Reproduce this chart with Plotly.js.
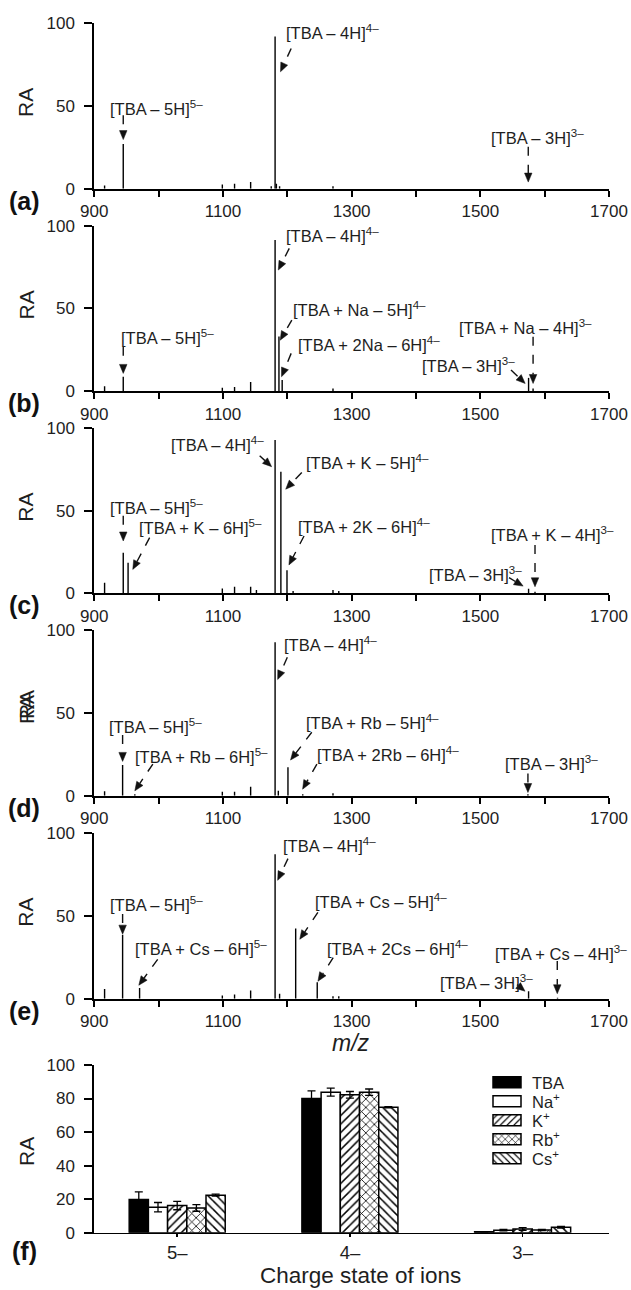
<!DOCTYPE html>
<html>
<head>
<meta charset="utf-8">
<script src="https://cdn.plot.ly/plotly-3.0.1.min.js"></script>
<style>html,body{margin:0;padding:0;background:#fff;}#chart{width:631px;height:1290px;}</style>
</head>
<body>
<div id="chart"></div>
<script>
// ---------- DATA ----------
// Mass spectra (m/z of sticks and relative abundance RA)
const mzA = [916, 945, 1099, 1118, 1143, 1175, 1181, 1183, 1188, 1271];
const raA = [2, 27, 2.5, 3, 4, 1.5, 92, 3, 1.5, 1.5];

const mzB = [916, 945, 1099, 1118, 1143, 1181, 1187, 1192, 1271, 1575, 1582];
const raB = [3, 8.7, 2, 2.5, 5.5, 91.3, 33, 6.7, 1.5, 8, 1.5];

const mzC = [916, 945, 952.5, 1099, 1118, 1143, 1152, 1181, 1190, 1199.5, 1209, 1271, 1280, 1575, 1585];
const raC = [6.5, 24.6, 18.6, 3, 4, 4, 2, 92.7, 73.5, 14, 1.5, 2, 1.5, 2.8, 1];

const mzD = [916, 944, 963, 1099, 1118, 1143, 1181, 1186, 1201, 1224, 1271, 1574];
const raD = [2.8, 18.6, 1, 2.5, 2.5, 5.5, 92.9, 3, 17.2, 1, 1.5, 1];

const mzE = [916, 944, 970.4, 1099, 1118, 1143, 1181, 1188, 1213, 1246.5, 1271, 1280, 1575, 1620];
const raE = [5.9, 38.5, 6.5, 2, 2.5, 4.9, 87, 3, 42.3, 9.9, 1.5, 1.5, 4.5, 0.5];

const mzTickVals = [900, 1100, 1300, 1500, 1700];
const mzMinorTickVals = [1000, 1200, 1400, 1600];
const raTickVals = [0, 50, 100];

// Bar chart (f)
const chargeStates = ['5–', '4–', '3–'];
const seriesNames = ['TBA', 'Na<sup>+</sup>', 'K<sup>+</sup>', 'Rb<sup>+</sup>', 'Cs<sup>+</sup>'];
const raTBA = [19.8, 80.0, 0.5];
const errTBA = [4.6, 4.6, 0.2];
const raNa = [15.2, 83.8, 1.5];
const errNa = [2.8, 2.4, 0.4];
const raK = [16.2, 82.2, 2.2];
const errK = [2.5, 2.0, 0.8];
const raRb = [14.8, 83.8, 1.6];
const errRb = [2.0, 1.9, 0.4];
const raCs = [22.4, 74.8, 3.2];
const errCs = [0.6, 0.3, 0.5];
const fTickVals = [0, 20, 40, 60, 80, 100];

// Peak labels (text, label left x, label y, arrow tail x,y, arrow tip x,y) in data units
const labelsA = [
  ['[TBA – 5H]<sup>5–</sup>', 921, 49, 945, 44.4, 945, 29.7],
  ['[TBA – 4H]<sup>4–</sup>', 1195.6, 95, 1206, 84.8, 1189.4, 70.7],
  ['[TBA – 3H]<sup>3–</sup>', 1513, 31.3, 1574.5, 25.3, 1574.5, 4]
];
const labelsB = [
  ['[TBA – 5H]<sup>5–</sup>', 939, 32.5, 945, 26.8, 945, 10.7],
  ['[TBA – 4H]<sup>4–</sup>', 1194.4, 94.4, 1203, 86.3, 1186, 73.2],
  ['[TBA + Na – 5H]<sup>4–</sup>', 1205, 49.6, 1207, 42.9, 1188.9, 30.8],
  ['[TBA + 2Na – 6H]<sup>4–</sup>', 1213, 28.4, 1206, 22.8, 1191, 8.7],
  ['[TBA – 3H]<sup>3–</sup>', 1407, 15.7, 1547.7, 12.7, 1569.7, 4.6],
  ['[TBA + Na – 4H]<sup>3–</sup>', 1463, 38.9, 1582, 32.9, 1582, 4.6]
];
const labelsC = [
  ['[TBA – 4H]<sup>4–</sup>', 1016, 90.3, 1157, 83.2, 1175.6, 76.6],
  ['[TBA + K – 5H]<sup>4–</sup>', 1225.6, 79.2, 1222.5, 73.1, 1197.5, 63],
  ['[TBA – 5H]<sup>5–</sup>', 921, 52.3, 945, 46.9, 945, 31.7],
  ['[TBA + K – 6H]<sup>5–</sup>', 966, 40.2, 986, 33.7, 959.8, 14.5],
  ['[TBA + 2K – 6H]<sup>4–</sup>', 1213, 40.8, 1226, 34.7, 1202.5, 17.2],
  ['[TBA – 3H]<sup>3–</sup>', 1416.5, 11.5, 1544.6, 9.5, 1566.5, 4.4],
  ['[TBA + K – 4H]<sup>3–</sup>', 1513.4, 35.8, 1585, 29.3, 1585, 4]
];
const labelsD = [
  ['[TBA – 4H]<sup>4–</sup>', 1191, 91.9, 1200, 83.8, 1185, 70.3],
  ['[TBA – 5H]<sup>5–</sup>', 919, 42.4, 944, 36.8, 944, 20.8],
  ['[TBA + Rb – 6H]<sup>5–</sup>', 960, 24.2, 991, 19.2, 963, 3],
  ['[TBA + Rb – 5H]<sup>4–</sup>', 1225.6, 44.4, 1238, 38.4, 1205, 21.6],
  ['[TBA + 2Rb – 6H]<sup>4–</sup>', 1243, 25.3, 1246, 19.2, 1223.8, 4],
  ['[TBA – 3H]<sup>3–</sup>', 1535, 19.8, 1574, 13.5, 1574, 2]
];
const labelsE = [
  ['[TBA – 4H]<sup>4–</sup>', 1190, 92.5, 1201, 84.4, 1185, 71.3],
  ['[TBA – 5H]<sup>5–</sup>', 921, 57.1, 944, 51, 944, 38.9],
  ['[TBA + Cs – 5H]<sup>4–</sup>', 1240, 59.1, 1247.5, 52, 1219.4, 35.8],
  ['[TBA + Cs – 6H]<sup>5–</sup>', 960, 30.8, 998.5, 23.7, 969.2, 8.1],
  ['[TBA + 2Cs – 6H]<sup>4–</sup>', 1259, 30.8, 1271.3, 24.7, 1247.6, 10.5],
  ['[TBA – 3H]<sup>3–</sup>', 1434, 10.1, 1557, 8.5, 1569.5, 4.5],
  ['[TBA + Cs – 4H]<sup>3–</sup>', 1519.7, 27.7, 1619.6, 22.7, 1619.6, 3]
];

// ---------- LAYOUT ----------
const W = 631, H = 1290;
const FONT = 'Liberation Sans, Arial, Helvetica, sans-serif';
const TXT = '#1e1e1e';
const py = p => 1 - p / H;
const xDom = [94.3 / W, 609 / W];
const panelPx = [[23.3, 188.7], [225.7, 391.1], [428, 593.4], [630.4, 795.8], [832.7, 998.7]];
const fPx = [1065, 1232.7];

const spectra = [[mzA, raA], [mzB, raB], [mzC, raC], [mzD, raD], [mzE, raE]];
const labelSets = [labelsA, labelsB, labelsC, labelsD, labelsE];

const traces = [];
const layout = {
  width: W, height: H,
  margin: {l: 0, r: 0, t: 0, b: 0},
  paper_bgcolor: '#fff', plot_bgcolor: 'rgba(0,0,0,0)',
  font: {family: FONT, color: TXT, size: 17},
  showlegend: true,
  barmode: 'group', bargap: 0.444, bargroupgap: 0,
  legend: {x: 492 / W, y: py(1065), xanchor: 'left', yanchor: 'top',
           font: {size: 16.5, family: FONT, color: TXT}, bgcolor: 'rgba(0,0,0,0)',
           tracegroupgap: 0, itemwidth: 30},
  annotations: [], shapes: []
};

const HEAD_L = 9, HEAD_W = 7.5;

spectra.forEach((s, i) => {
  const n = i + 1;
  const sx = n === 1 ? '' : String(n);
  const xs = [], ys = [];
  s[0].forEach((m, k) => { xs.push(m, m, null); ys.push(0, s[1][k], null); });
  traces.push({x: xs, y: ys, type: 'scatter', mode: 'lines',
    line: {color: '#000', width: 1.4}, xaxis: 'x' + sx, yaxis: 'y' + sx,
    showlegend: false, hoverinfo: 'skip', cliponaxis: false});
  const dom = [py(panelPx[i][1]), py(panelPx[i][0])];
  layout['xaxis' + sx] = {domain: xDom, anchor: 'y' + sx, range: [900, 1700], fixedrange: true,
    showline: true, linecolor: '#000', linewidth: 2, showgrid: false, zeroline: false,
    ticks: 'outside', ticklen: 6, tickwidth: 2, tickcolor: '#000',
    tickmode: 'array', tickvals: mzTickVals,
    minor: {tickmode: 'array', tickvals: mzMinorTickVals, ticks: 'outside', ticklen: 6, tickwidth: 2, tickcolor: '#000', showgrid: false},
    tickfont: {size: 17, color: TXT}};
  layout['yaxis' + sx] = {domain: dom, anchor: 'x' + sx, range: [0, 100], fixedrange: true,
    showline: true, linecolor: '#000', linewidth: 2, showgrid: false, zeroline: false,
    ticks: 'outside', ticklen: 8, tickwidth: 2, tickcolor: '#000',
    tickmode: 'array', tickvals: raTickVals, ticklabelstandoff: 6,
    tickfont: {size: 17, color: TXT}};
  // RA title
  const midY = (panelPx[i][0] + panelPx[i][1]) / 2 - 3;
  layout.annotations.push({xref: 'paper', yref: 'paper', x: 26 / W, y: py(midY),
    text: 'RA', showarrow: false, textangle: -90, font: {size: 21, color: TXT},
    xanchor: 'center', yanchor: 'middle'});
  if (i === 3) {
    layout.annotations.push({xref: 'paper', yref: 'paper', x: 26 / W, y: py(midY - 5),
      text: 'RA', showarrow: false, textangle: -90, font: {size: 21, color: TXT},
      xanchor: 'center', yanchor: 'middle'});
  }
  // panel letter
  layout.annotations.push({xref: 'paper', yref: 'paper', x: 24 / W, y: py(panelPx[i][1] + 12),
    text: '<b>(' + 'abcde'[i] + ')</b>', showarrow: false, font: {size: 25, color: '#111'},
    xanchor: 'center', yanchor: 'middle'});
  // peak labels + dashed arrows with solid heads
  const pxPerX = (xDom[1] - xDom[0]) * W / 800;
  const pxPerY = (panelPx[i][1] - panelPx[i][0]) / 100;
  labelSets[i].forEach(L => {
    const [txt, lx, ly, tx, ty, hx, hy] = L;
    layout.annotations.push({xref: 'x' + sx, yref: 'y' + sx, x: lx, y: ly, text: txt,
      showarrow: false, xanchor: 'left', yanchor: 'middle', font: {size: 16.5, color: TXT}});
    const dxp = (tx - hx) * pxPerX, dyp = (ty - hy) * pxPerY; // pixel units, y up
    const len = Math.hypot(dxp, dyp) || 1;
    const ux = dxp / len, uy = dyp / len;
    const bx = ux * HEAD_L, by = uy * HEAD_L;
    const pxp = -uy * HEAD_W / 2, pyp = ux * HEAD_W / 2;
    const sEndX = hx + bx / pxPerX, sEndY = hy + by / pxPerY;
    layout.shapes.push({type: 'line', xref: 'x' + sx, yref: 'y' + sx, x0: tx, y0: ty, x1: sEndX, y1: sEndY,
      line: {color: '#111', width: 1.4, dash: 'dash'}});
    layout.shapes.push({type: 'path', xref: 'x' + sx, yref: 'y' + sx,
      xsizemode: 'pixel', ysizemode: 'pixel', xanchor: hx, yanchor: hy,
      path: `M0,0 L${(bx + pxp).toFixed(2)},${(by + pyp).toFixed(2)} L${(bx - pxp).toFixed(2)},${(by - pyp).toFixed(2)} Z`,
      fillcolor: '#111', line: {color: '#111', width: 0.5}});
  });
});

// m/z title
layout.annotations.push({xref: 'paper', yref: 'paper', x: 351 / W, y: py(1043),
  text: '<i>m/z</i>', showarrow: false, font: {size: 23, color: TXT}, xanchor: 'center', yanchor: 'middle'});

// ---------- Bar chart (f) ----------
const barVals = [raTBA, raNa, raK, raRb, raCs];
const barErr = [errTBA, errNa, errK, errRb, errCs];
const fills = ['#000', '#fff', '#fff', '#fff', '#fff'];
const pats = ['', '', '/', 'x', '\\'];
barVals.forEach((v, k) => {
  const mk = {color: fills[k], line: {color: '#000', width: 1.5}};
  if (pats[k]) mk.pattern = {shape: pats[k], fgcolor: '#000', bgcolor: '#fff', size: 6, solidity: 0.25};
  traces.push({type: 'bar', name: seriesNames[k], x: chargeStates, y: v,
    error_y: {type: 'data', array: barErr[k], visible: true, color: '#000', thickness: 1.3, width: 4},
    marker: mk, xaxis: 'x6', yaxis: 'y6', hoverinfo: 'skip'});
});
layout.xaxis6 = {domain: xDom, anchor: 'y6', type: 'category', range: [-0.48, 2.5], fixedrange: true,
  showline: true, linecolor: '#000', linewidth: 1.5, showgrid: false, zeroline: false,
  ticks: 'outside', ticklen: 3, tickwidth: 1.5, tickcolor: '#000', tickfont: {size: 18.5, color: TXT}};
layout.yaxis6 = {domain: [py(fPx[1]), py(fPx[0])], anchor: 'x6', range: [0, 100], fixedrange: true,
  showline: true, linecolor: '#000', linewidth: 2, showgrid: false, zeroline: false,
  ticks: 'outside', ticklen: 8, tickwidth: 2, tickcolor: '#000',
  tickmode: 'array', tickvals: fTickVals, ticklabelstandoff: 6,
  tickfont: {size: 17, color: TXT}};
layout.annotations.push({xref: 'paper', yref: 'paper', x: 26 / W, y: py(1152),
  text: 'RA', showarrow: false, textangle: -90, font: {size: 21, color: TXT}, xanchor: 'center', yanchor: 'middle'});
layout.annotations.push({xref: 'paper', yref: 'paper', x: 24 / W, y: py(1251),
  text: '<b>(f)</b>', showarrow: false, font: {size: 25, color: '#111'}, xanchor: 'center', yanchor: 'middle'});
layout.annotations.push({xref: 'paper', yref: 'paper', x: 360 / W, y: py(1275),
  text: 'Charge state of ions', showarrow: false, font: {size: 22.5, color: TXT}, xanchor: 'center', yanchor: 'middle'});

Plotly.newPlot('chart', traces, layout, {displayModeBar: false, staticPlot: true}).then(gd => {
  // wider legend swatches and tighter rows, as in the reference
  const items = gd.querySelectorAll('.legend .traces');
  let y0 = null;
  items.forEach((it, i) => {
    const m = /translate\(\s*([-\d.]+)[ ,]+([-\d.]+)\s*\)/.exec(it.getAttribute('transform') || '');
    if (m) {
      const x = parseFloat(m[1]);
      if (y0 === null) y0 = parseFloat(m[2]);
      it.setAttribute('transform', `translate(${x},${y0 + i * 19})`);
    }
    it.querySelectorAll('.legendpoints path').forEach(p => p.setAttribute('d', 'M9,5.5H-19V-5.5H9Z'));
  });
});
</script>
</body>
</html>
